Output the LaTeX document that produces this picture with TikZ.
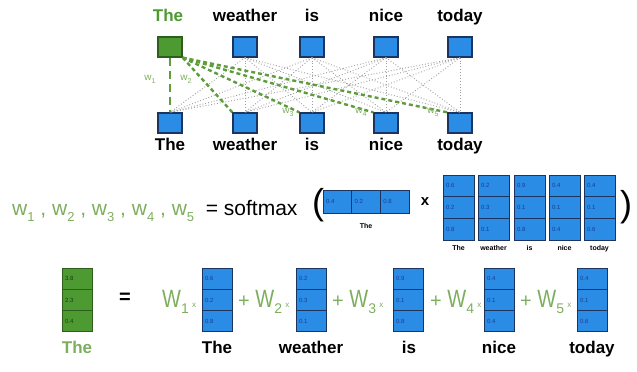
\documentclass[tikz,border=0pt]{standalone}
\usepackage{fontspec}
\setmainfont{Liberation Sans}
\definecolor{cblue}{HTML}{2B8CE6}
\definecolor{cnavy}{HTML}{1B3560}
\definecolor{cgreen}{HTML}{4C9A31}
\definecolor{cgreendk}{HTML}{2D5E1C}
\definecolor{tgreen}{HTML}{7DAE5E}
\definecolor{lgreen}{HTML}{5E9C3C}
\definecolor{cval}{HTML}{1A3D8F}
\definecolor{cvalg}{HTML}{1E3D12}
\newcommand{\wsub}[2]{#1\raisebox{-0.3em}{\fontsize{13}{13}\selectfont #2}}
\newcommand{\wterm}[1]{\scalebox{0.8}[1]{\fontsize{25}{25}\selectfont W}\raisebox{-6pt}{\fontsize{14}{14}\selectfont #1}\,{\fontsize{8}{8}\selectfont x}}
\newcommand{\vcol}[7]{%
  \node[#7, anchor=north west] (#1a) at (#2,#3) {#4};
  \node[#7, anchor=north] (#1b) at (#1a.south) {#5};
  \node[#7, anchor=north] (#1c) at (#1b.south) {#6};
}
\begin{document}
\begin{tikzpicture}[x=1pt,y=-1pt,
  sq/.style={draw=cnavy,fill=cblue,line width=1.3pt,minimum width=24pt,minimum height=20pt,inner sep=0},
  sqg/.style={sq,draw=cgreendk,fill=cgreen},
  word/.style={font=\fontsize{17}{17}\selectfont\bfseries,anchor=base,inner sep=0},
  wlab/.style={font=\fontsize{10}{10}\selectfont,text=tgreen,inner sep=0},
  vcell/.style={draw=cnavy,fill=cblue,line width=1pt,outer sep=0,minimum height=21.3pt,
     text width=24pt,inner xsep=3pt,inner ysep=0,align=left,font=\fontsize{6}{6}\selectfont,text=cval},
  gcell/.style={vcell,draw=cgreendk,fill=cgreen,text=cvalg},
  mcell/.style={vcell,minimum height=21.7pt,text width=25pt},
  hcell/.style={vcell,minimum height=23pt,text width=22.7pt},
  tiny/.style={font=\fontsize{7}{7}\selectfont\bfseries,inner sep=0,anchor=base},
  dots/.style={draw=gray!75,dotted,line width=0.9pt},
  gdash/.style={draw=lgreen,line width=2.4pt,dash pattern=on 4pt off 3pt},
  op/.style={font=\fontsize{20}{20}\selectfont,text=tgreen,inner sep=0}
]
\useasboundingbox (0,0) rectangle (637,372);

% ---- top network ----
\foreach \n/\x in {The/170,weather/245,is/312,nice/386,today/460}{
  \node[sq] (b\n) at (\x,123) {};
  \node[word] (bl\n) at (\x,150) {\n};
}
\node[sqg] (tThe) at (170,47) {};
\foreach \n/\x in {weather/245,is/312,nice/386,today/460}{
  \node[sq] (t\n) at (\x,47) {};
  \node[word] (tl\n) at (\x,21) {\n};
}
\node[word,text=cgreen] (tlThe) at (168,21) {The};

\foreach \s in {weather,is,nice,today}{
  \foreach \d in {The,weather,is,nice,today}{
    \draw[dots] (t\s.south) -- (b\d.north);
  }
}
\draw[gdash,dash pattern=on 8pt off 5pt] (tThe.south) -- (bThe.north);
\foreach \d in {weather,is,nice,today}{
  \draw[gdash] (tThe.south east) -- (b\d.north west);
}
\node[wlab] (w1) at (150,79) {\wsub{w}{\fontsize{7}{7}\selectfont 1}};
\node[wlab] (w2) at (186,79) {\wsub{w}{\fontsize{7}{7}\selectfont 2}};
\node[wlab] (w3) at (288,112) {\wsub{w}{\fontsize{7}{7}\selectfont 3}};
\node[wlab] (w4) at (361,112) {\wsub{w}{\fontsize{7}{7}\selectfont 4}};
\node[wlab] (w5) at (433,112) {\wsub{w}{\fontsize{7}{7}\selectfont 5}};

% ---- softmax row ----
\node[anchor=base west,inner sep=0,font=\fontsize{21}{21}\selectfont] (sm) at (12,215)
  {{\color{tgreen}\wsub{w}{1} , \wsub{w}{2} , \wsub{w}{3} , \wsub{w}{4} , \wsub{w}{5}}\ \ = softmax};
\node[inner sep=0,font=\fontsize{36}{36}\selectfont] (lp) at (318,205) {(};
\node[hcell,anchor=north west] (h1) at (323,190) {0.4};
\node[hcell,anchor=west] (h2) at (h1.east) {0.2};
\node[hcell,anchor=west] (h3) at (h2.east) {0.8};
\node[tiny] (hl) at (h2.south |- 0,228) {The};
\node[inner sep=0,font=\fontsize{15}{15}\selectfont\bfseries] (times) at (425,202) {x};
\vcol{m1}{443}{175}{0.6}{0.2}{0.8}{mcell}
\vcol{m2}{478}{175}{0.2}{0.3}{0.1}{mcell}
\vcol{m3}{514}{175}{0.9}{0.1}{0.8}{mcell}
\vcol{m4}{549}{175}{0.4}{0.1}{0.4}{mcell}
\vcol{m5}{584}{175}{0.4}{0.1}{0.6}{mcell}
\node[tiny] (ml1) at (m1c.south |- 0,250) {The};
\node[tiny] (ml2) at (m2c.south |- 0,250) {weather};
\node[tiny] (ml3) at (m3c.south |- 0,250) {is};
\node[tiny] (ml4) at (m4c.south |- 0,250) {nice};
\node[tiny] (ml5) at (m5c.south |- 0,250) {today};
\node[inner sep=0,font=\fontsize{36}{36}\selectfont] (rp) at (626,207) {)};

% ---- weighted sum row ----
\vcol{g}{62}{268}{3.8}{2.3}{0.4}{gcell}
\node[word,text=tgreen] (gl) at (gc.south |- 0,353) {The};
\node[inner sep=0,font=\fontsize{20}{20}\selectfont\bfseries] (eq) at (125,298) {=};
\node[op,anchor=base west] (op1) at (162,307) {\wterm{1}};
\vcol{v1}{202}{268}{0.6}{0.2}{0.8}{vcell}
\node[op,anchor=base west] (op2) at (238,307) {+ \wterm{2}};
\vcol{v2}{296}{268}{0.2}{0.3}{0.1}{vcell}
\node[op,anchor=base west] (op3) at (332,307) {+ \wterm{3}};
\vcol{v3}{393}{268}{0.9}{0.1}{0.8}{vcell}
\node[op,anchor=base west] (op4) at (430,307) {+ \wterm{4}};
\vcol{v4}{484}{268}{0.4}{0.1}{0.4}{vcell}
\node[op,anchor=base west] (op5) at (520,307) {+ \wterm{5}};
\vcol{v5}{577}{268}{0.4}{0.1}{0.6}{vcell}
\node[word] (vl1) at (217,353) {The};
\node[word] (vl2) at (311,353) {weather};
\node[word] (vl3) at (409,353) {is};
\node[word] (vl4) at (499,353) {nice};
\node[word] (vl5) at (592,353) {today};
\end{tikzpicture}
\end{document}
